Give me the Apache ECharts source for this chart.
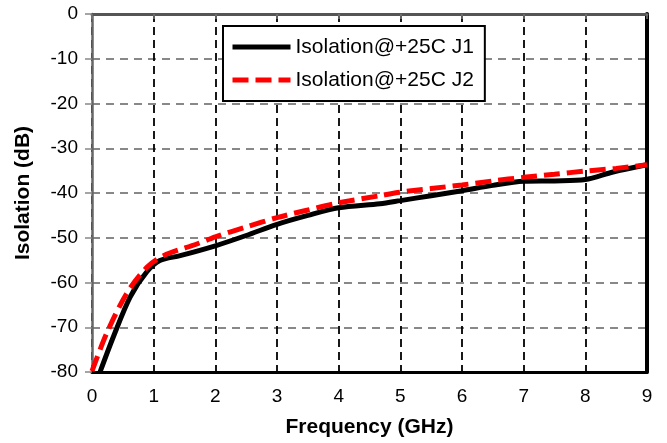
<!DOCTYPE html>
<html>
<head>
<meta charset="utf-8">
<script src="https://cdn.jsdelivr.net/npm/echarts@6/dist/echarts.min.js"></script>
<style>
html,body{margin:0;padding:0;background:#fff;}
#chart{width:667px;height:443px;}
</style>
</head>
<body>
<div id="chart"></div>
<script>
// Frequency (GHz) / Isolation (dB) pairs
const j1Freq = [0.13, 0.35, 0.62, 0.89, 1.1, 1.43, 2.0, 2.5, 3.0, 3.5, 4.0, 4.67, 5.0, 5.5, 6.0, 6.5, 7.0, 7.5, 8.0, 8.45, 9.0];
const j1Iso  = [-80, -72, -63.2, -57.6, -55.1, -54.0, -51.8, -49.5, -47.0, -45.0, -43.3, -42.4, -41.7, -40.6, -39.5, -38.3, -37.4, -37.3, -37.0, -35.3, -33.7];
const j2Freq = [0.0, 0.24, 0.56, 0.89, 1.16, 1.7, 2.0, 2.5, 3.0, 3.5, 4.0, 4.67, 5.0, 5.5, 6.0, 6.5, 7.0, 7.5, 8.0, 8.5, 9.0];
const j2Iso  = [-79.8, -71.3, -62.5, -56.6, -54.0, -51.4, -49.8, -47.6, -45.5, -43.8, -42.2, -40.6, -39.8, -39.0, -38.2, -37.3, -36.5, -35.8, -35.1, -34.5, -33.7];
const seriesNames = ['Isolation@+25C J1', 'Isolation@+25C J2'];
const xTicks = [0, 1, 2, 3, 4, 5, 6, 7, 8, 9];
const yTicks = [0, -10, -20, -30, -40, -50, -60, -70, -80];

const FONT = '"Liberation Sans", Arial, sans-serif';
const pairs = (xs, ys) => xs.map((x, i) => [x, ys[i]]);

const chart = echarts.init(document.getElementById('chart'), null, {renderer: 'canvas'});
chart.setOption({
  animation: false,
  backgroundColor: '#fff',
  grid: {left: 92, right: 20, top: 14, bottom: 67, containLabel: false},
  legend: {
    orient: 'vertical',
    left: 223, top: 26,
    data: seriesNames,
    itemWidth: 58, itemHeight: 14, itemGap: 11,
    padding: [10, 11, 10, 7],
    borderColor: '#000', borderWidth: 2, backgroundColor: '#fff',
    textStyle: {fontFamily: FONT, fontSize: 21, color: '#000', lineHeight: 22},
    itemStyle: {color: 'rgba(0,0,0,0)', borderWidth: 0, opacity: 0},
    lineStyle: {width: 5}
  },
  xAxis: [{
    type: 'value', min: xTicks[0], max: xTicks[xTicks.length - 1], interval: 1,
    name: 'Frequency (GHz)', nameLocation: 'middle', nameGap: 45,
    nameTextStyle: {fontFamily: FONT, fontSize: 21, fontWeight: 'bold', color: '#000'},
    axisLine: {show: true, onZero: false, lineStyle: {color: '#000', width: 3}},
    axisTick: {show: false},
    axisLabel: {fontFamily: FONT, fontSize: 19, color: '#000', margin: 15},
    splitLine: {show: true, lineStyle: {color: '#000', width: 1.8, type: [8, 5]}}
  }, {
    type: 'value', position: 'top', min: 0, max: 9, interval: 1,
    axisLine: {show: true, onZero: false, lineStyle: {color: '#555', width: 3}},
    axisTick: {show: true, inside: true, length: 5, lineStyle: {color: '#777', width: 1.5}},
    axisLabel: {show: false}, splitLine: {show: false}
  }],
  yAxis: [{
    type: 'value', min: yTicks[yTicks.length - 1], max: yTicks[0], interval: 10,
    name: 'Isolation (dB)', nameLocation: 'middle', nameGap: 58,
    nameTextStyle: {fontFamily: FONT, fontSize: 21, fontWeight: 'bold', color: '#000'},
    axisLine: {show: true, onZero: false, lineStyle: {color: '#666', width: 2.5}},
    axisTick: {show: true, length: 7, lineStyle: {color: '#888', width: 1.5}},
    axisLabel: {fontFamily: FONT, fontSize: 19, color: '#000', margin: 14},
    splitLine: {show: true, lineStyle: {color: '#888', width: 1.8, type: [8, 6]}}
  }, {
    type: 'value', position: 'right', min: -80, max: 0, interval: 10,
    axisLine: {show: true, onZero: false, lineStyle: {color: '#000', width: 4}},
    axisTick: {show: false}, axisLabel: {show: false}, splitLine: {show: false}
  }],
  series: [{
    name: seriesNames[0], type: 'line', data: pairs(j1Freq, j1Iso),
    symbol: 'none', smooth: 0.3, z: 3,
    lineStyle: {color: '#000', width: 5},
    itemStyle: {color: '#000'}
  }, {
    name: seriesNames[1], type: 'line', data: pairs(j2Freq, j2Iso),
    symbol: 'none', smooth: 0.3, z: 4,
    lineStyle: {color: '#ff0000', width: 5, type: [16, 7]},
    itemStyle: {color: '#ff0000'}
  }]
});
</script>
</body>
</html>
